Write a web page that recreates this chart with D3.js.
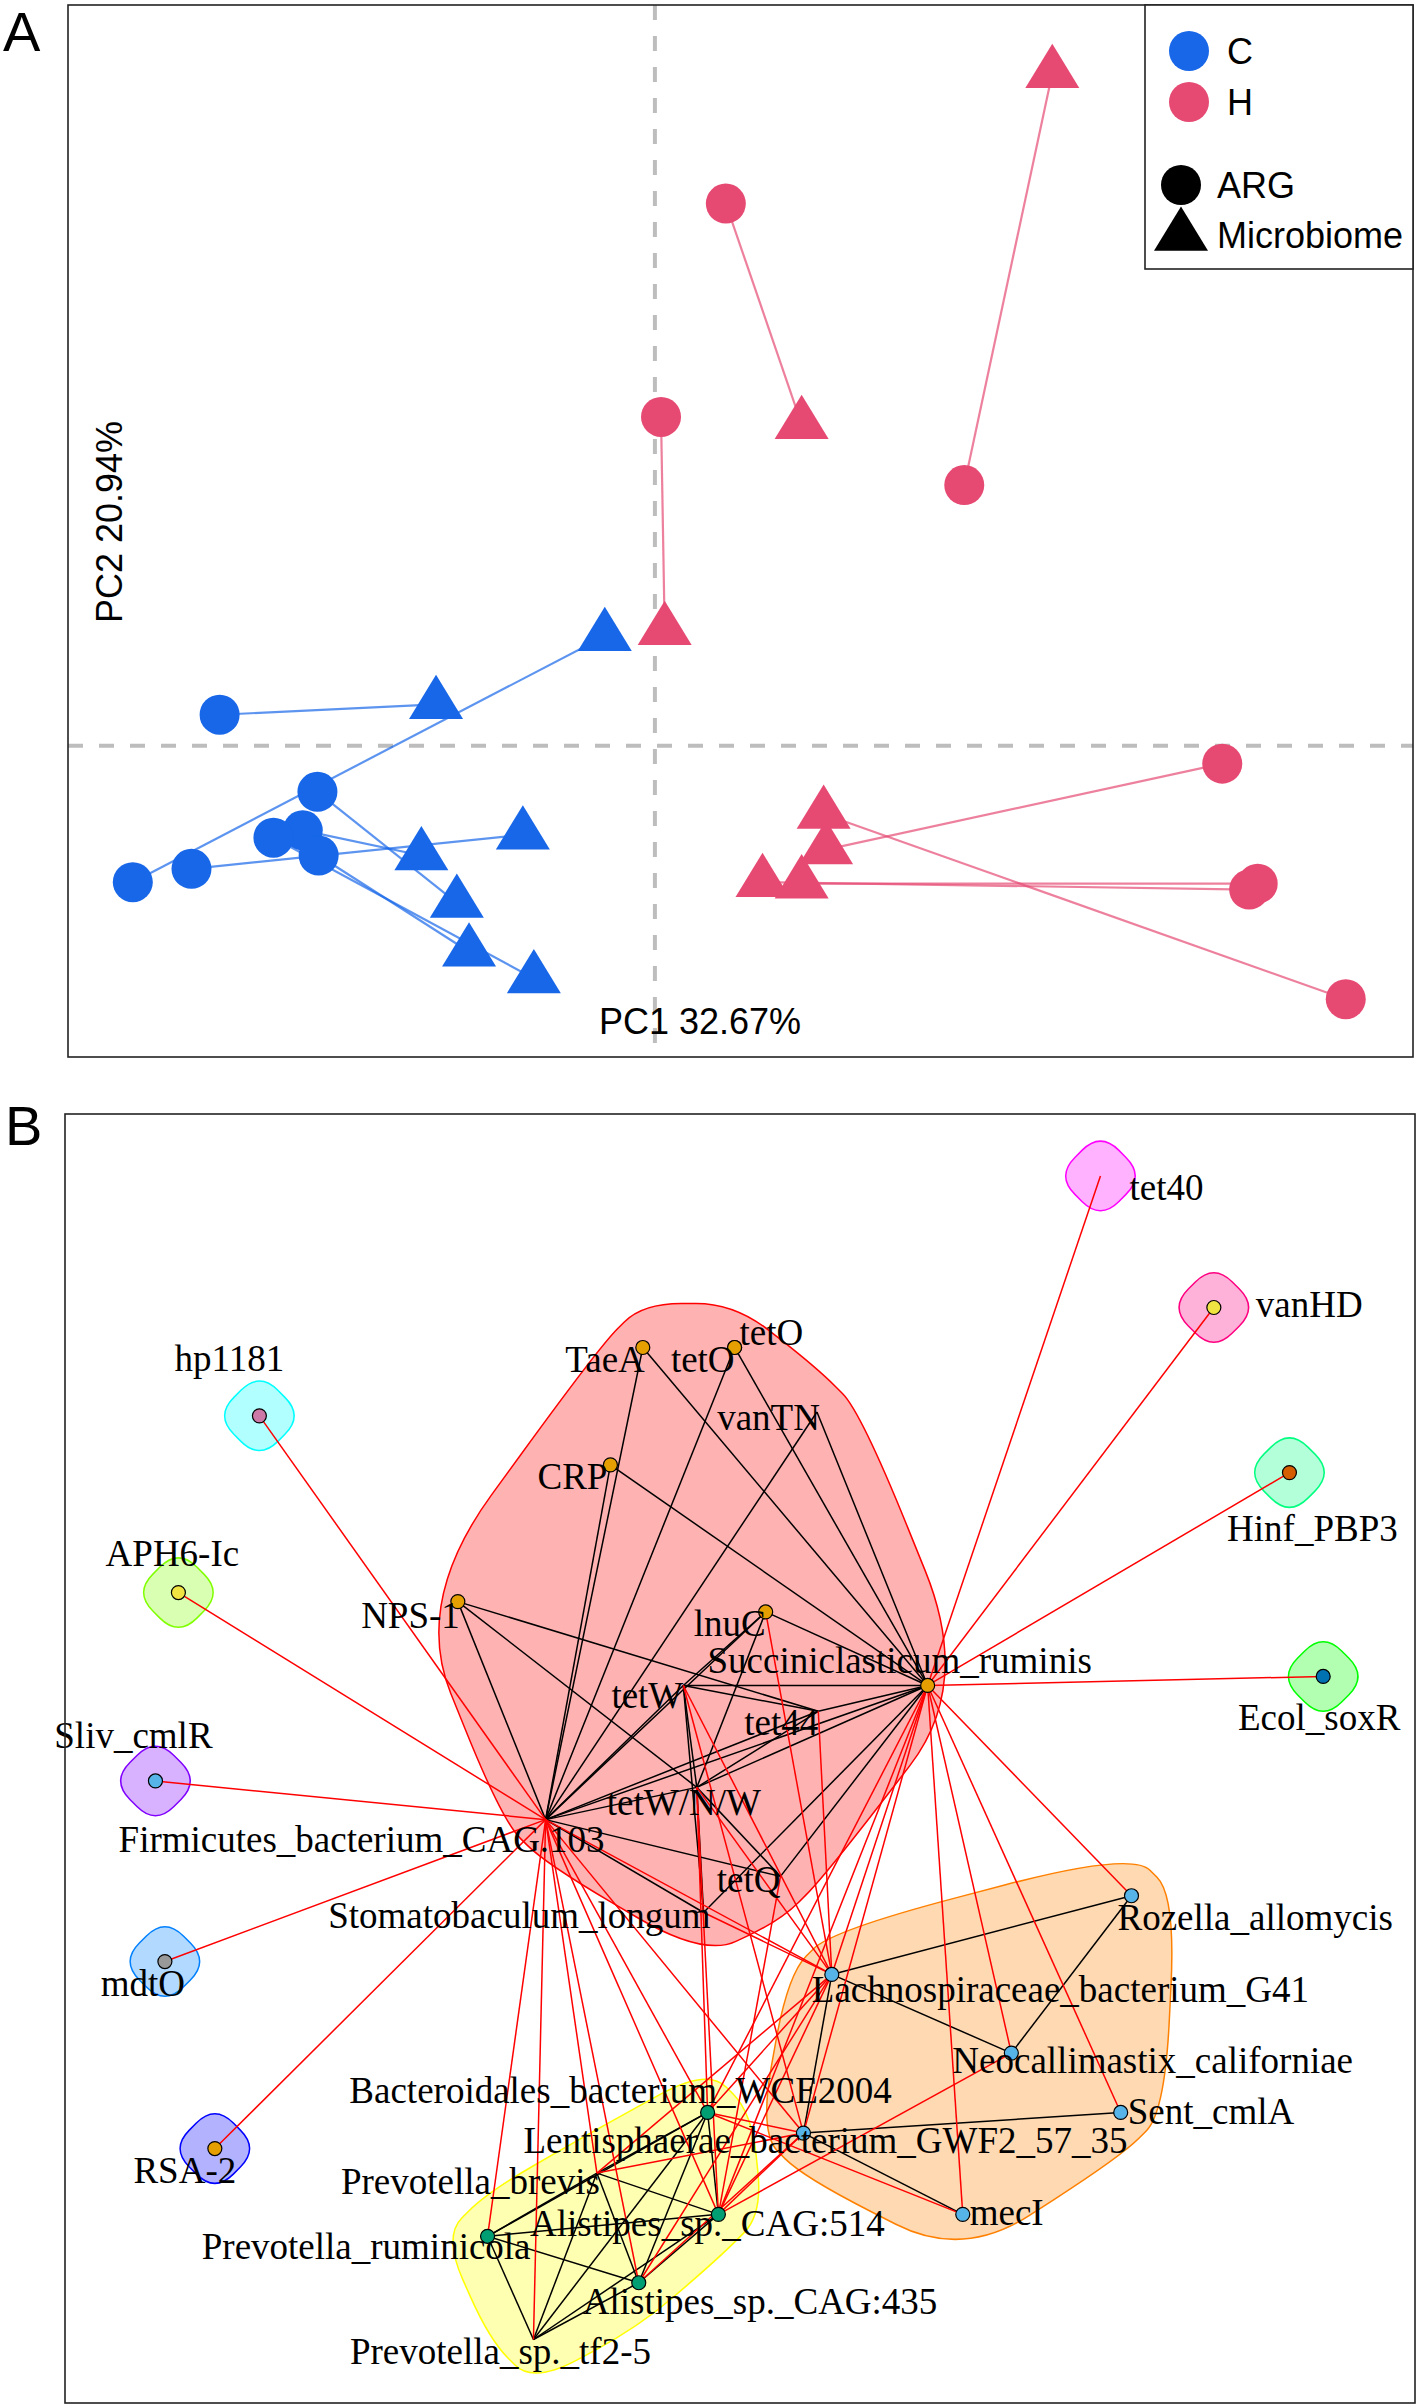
<!DOCTYPE html>
<html>
<head>
<meta charset="utf-8">
<script src="https://cdn.jsdelivr.net/npm/d3@7"></script>
<style>
  body { margin: 0; background: #fff; }
  svg { display: block; }
</style>
</head>
<body>
<svg id="fig" width="1418" height="2408"></svg>
<script>
// --------------------------------------------------------
// PANEL A DATA: procrustes PCoA, ARG vs microbiome per sample
// --------------------------------------------------------
const sampleIds   = ["C1","C2","C3","C4","C5","C6","C7","H1","H2","H3","H4","H5","H6","H7"];
const sampleGroup = ["C","C","C","C","C","C","C","H","H","H","H","H","H","H"];
const argPC1 = [-0.356,-0.427,-0.379,-0.288,-0.276,-0.275,-0.312, 0.058, 0.005, 0.253, 0.464, 0.493, 0.486, 0.565];
const argPC2 = [ 0.021,-0.092,-0.083,-0.057,-0.031,-0.074,-0.062, 0.366, 0.222, 0.176,-0.012,-0.093,-0.097,-0.171];
const micPC1 = [-0.179,-0.041,-0.108,-0.191,-0.162,-0.152,-0.099, 0.120, 0.008, 0.325, 0.140, 0.120, 0.088, 0.138];
const micPC2 = [ 0.028, 0.074,-0.060,-0.074,-0.106,-0.139,-0.157, 0.217, 0.078, 0.454,-0.070,-0.093,-0.092,-0.046];
const axisTitles  = ["PC1 32.67%", "PC2 20.94%"];
const groupLevels = ["C", "H"];
const typeLevels  = ["ARG", "Microbiome"];

// --------------------------------------------------------
// PANEL B DATA: co-occurrence network (layout units 0-100)
// --------------------------------------------------------
const nodeIds = ["TaeA","tetO1","tetO2","vanTN","CRP","NPS1","lnuC","Succ","tetW","tet44","tetWNW","tetQ","Firm","Stoma",
                 "Roz","Lach","Neo","Sent","Lent","mecI",
                 "Bact","Pbre","A514","Prum","A435","Psp",
                 "APH6","Ecol","Hinf","hp1181","mdtO","RSA2","Sliv","tet40","vanHD"];
const nodeLabels = ["TaeA","tetO","tetO","vanTN","CRP","NPS-1","lnuC","Succiniclasticum_ruminis","tetW","tet44","tetW/N/W","tetQ",
                    "Firmicutes_bacterium_CAG.103","Stomatobaculum_longum",
                    "Rozella_allomycis","Lachnospiraceae_bacterium_G41","Neocallimastix_californiae","Sent_cmlA",
                    "Lentisphaerae_bacterium_GWF2_57_35","mecI",
                    "Bacteroidales_bacterium_WCE2004","Prevotella_brevis","Alistipes_sp._CAG:514","Prevotella_ruminicola",
                    "Alistipes_sp._CAG:435","Prevotella_sp._tf2-5",
                    "APH6-Ic","Ecol_soxR","Hinf_PBP3","hp1181","mdtO","RSA-2","Sliv_cmlR","tet40","vanHD"];
const nodeX = [42.8,49.6,49.6,55.7,40.4,29.1,51.9,63.9,45.8,55.8,46.8,53.0,35.6,47.3,
               79.0,56.8,70.1,78.2,54.7,66.5,
               47.6,39.4,48.4,31.3,42.5,34.7,
               8.4,93.2,90.7,14.4,7.4,11.1,6.7,76.7,85.1];
const nodeY = [18.1,18.1,18.1,23.1,27.2,37.8,38.6,44.3,44.3,46.3,52.2,59.1,54.7,61.9,
               60.6,66.7,72.8,77.4,79.0,85.3,
               77.4,82.1,85.3,87.0,90.6,95.0,
               37.1,43.6,27.8,23.4,65.7,80.2,51.7,4.8,15.0];
// community membership (one hull each)
const nodeGroup = [0,0,0,0,0,0,0,0,0,0,0,0,0,0,
                   1,1,1,1,1,1,
                   2,2,2,2,2,2,
                   3,4,5,6,7,8,9,10,11];
// vertex class ("none" = vertex drawn without a dot)
const nodeKind = ["orange","orange","orange","none","orange","orange","orange","orange","none","none","none","none","none","none",
                  "skyblue","skyblue","skyblue","skyblue","skyblue","skyblue",
                  "green","none","green","green","green","none",
                  "yellow","blue","vermilion","purple","grey","orange","skyblue","none","yellow"];
const edgeList = [
  ["TaeA","Firm"],["TaeA","Succ"],["tetO1","Firm"],["tetO2","Succ"],["vanTN","Succ"],["vanTN","Firm"],
  ["CRP","Firm"],["CRP","Succ"],["NPS1","Firm"],["NPS1","tetWNW"],["NPS1","tet44"],
  ["lnuC","Succ"],["lnuC","tetW"],["lnuC","Firm"],["lnuC","tetWNW"],
  ["tetW","Succ"],["tetW","tet44"],["tetW","tetWNW"],["tetW","Stoma"],["tetW","Firm"],
  ["tet44","Succ"],["tet44","Firm"],["tet44","tetWNW"],
  ["tetWNW","Firm"],["tetWNW","Succ"],["tetWNW","tetQ"],["tetWNW","Stoma"],
  ["tetQ","Firm"],["tetQ","Succ"],["Stoma","Firm"],["Stoma","Succ"],["Firm","Succ"],
  ["Lach","Roz"],["Lach","Neo"],["Roz","Neo"],["Lach","Lent"],["Lent","Sent"],["Lent","mecI"],
  ["Bact","Pbre"],["Bact","Prum"],["Bact","A514"],["Bact","A435"],["Bact","Psp"],
  ["Pbre","Prum"],["Pbre","A514"],["Pbre","A435"],["Pbre","Psp"],
  ["Prum","A514"],["Prum","A435"],["Prum","Psp"],["A514","Psp"],["A435","Psp"],["A514","A435"],
  ["Firm","hp1181"],["Firm","APH6"],["Firm","Sliv"],["Firm","mdtO"],["Firm","RSA2"],
  ["Firm","Prum"],["Firm","Psp"],["Firm","Pbre"],["Firm","A435"],["Firm","A514"],["Firm","Bact"],
  ["Firm","Lent"],["Firm","Lach"],
  ["Succ","tet40"],["Succ","vanHD"],["Succ","Hinf"],["Succ","Ecol"],["Succ","Roz"],["Succ","Sent"],
  ["Succ","Neo"],["Succ","mecI"],["Succ","Lach"],["Succ","Lent"],["Succ","A514"],["Succ","Bact"],
  ["tet44","Lach"],["lnuC","Lach"],["tetW","Lach"],["tetWNW","Lach"],["Stoma","Lach"],
  ["tetW","Lent"],["tetWNW","A514"],["tetWNW","Bact"],["tetQ","A514"],
  ["Bact","Lach"],["Bact","Lent"],["Bact","mecI"],["A514","Lach"],["A514","Lent"],["A514","Neo"],
  ["A435","Lach"],["A435","Lent"],["Pbre","Lach"],["Pbre","Lent"]
];

// --------------------------------------------------------
// STYLE
// --------------------------------------------------------
const sansFont  = "Liberation Sans, Arial, Helvetica, sans-serif";
const serifFont = "Liberation Serif, Times New Roman, serif";
const groupColor = d3.scaleOrdinal().domain(groupLevels).range(["#1767E8", "#E64A73"]);
const kindColor = d3.scaleOrdinal()
  .domain(["orange","skyblue","green","yellow","vermilion","blue","purple","grey"])
  .range(["#E69F00","#56B4E9","#009E73","#F0E442","#D55E00","#0072B2","#CC79A7","#999999"]);
// R rainbow(12): community hull colours
const hullColor = (g) => d3.hsl(g * 30, 1, 0.5).formatHex();

// label placement relative to vertex, px: [dx, dy, anchor]
const labelAt = {
  TaeA:[2,25,"end"], tetO1:[0,25,"end"], tetO2:[5,-2,"start"], vanTN:[3,18,"end"], CRP:[-3,24,"end"],
  NPS1:[2,26,"end"], lnuC:[0,24,"end"], Succ:[-28,-12,"middle"], tetW:[0,23,"end"], tet44:[0,24,"end"],
  tetWNW:[-13,28,"middle"], tetQ:[0,16,"end"], Firm:[-184,32,"middle"], Stoma:[7,15,"end"],
  Roz:[-14,34,"start"], Lach:[-20,28,"start"], Neo:[-59,20,"start"], Sent:[7,12,"start"],
  Lent:[22,20,"middle"], mecI:[7,11,"start"], Bact:[-87,-9,"middle"], Pbre:[3,21,"end"],
  A514:[-11,22,"middle"], Prum:[43,23,"end"], A435:[-56,31,"start"], Psp:[-33,24,"middle"],
  APH6:[-6,-27,"middle"], Ecol:[-4,54,"middle"], Hinf:[23,68,"middle"], hp1181:[-30,-45,"middle"],
  mdtO:[-22,34,"middle"], RSA2:[-30,34,"middle"], Sliv:[-22,-33,"middle"], tet40:[29,24,"start"],
  vanHD:[42,9,"start"]
};

const svg = d3.select("#fig");

// ========================================================
// PANEL A
// ========================================================
const frameA = { x0: 68, x1: 1413, y0: 5, y1: 1057 };
const ax = d3.scaleLinear().domain([-0.48, 0.62]).range([frameA.x0, frameA.x1]);
const ay = d3.scaleLinear().domain([-0.21, 0.5]).range([frameA.y1, frameA.y0]);

const gA = svg.append("g");

gA.append("line")
  .attr("x1", ax(0)).attr("x2", ax(0)).attr("y1", frameA.y0).attr("y2", frameA.y1)
  .attr("stroke", "#bdbdbd").attr("stroke-width", 4).attr("stroke-dasharray", "15,16");
gA.append("line")
  .attr("x1", frameA.x0).attr("x2", frameA.x1).attr("y1", ay(0)).attr("y2", ay(0))
  .attr("stroke", "#bdbdbd").attr("stroke-width", 4).attr("stroke-dasharray", "15,16");

const samples = sampleIds.map((id, i) => ({
  id, group: sampleGroup[i],
  ax: argPC1[i], ay: argPC2[i], mx: micPC1[i], my: micPC2[i]
}));

gA.append("g").selectAll("line").data(samples).join("line")
  .attr("x1", d => ax(d.ax)).attr("y1", d => ay(d.ay))
  .attr("x2", d => ax(d.mx)).attr("y2", d => ay(d.my))
  .attr("stroke", d => groupColor(d.group))
  .attr("stroke-opacity", 0.7)
  .attr("stroke-width", 2.2);

// squat triangle centred on its centroid
const triangle = {
  draw(ctx, size) {
    const w = Math.sqrt(size), h = w * 0.82;
    ctx.moveTo(0, -h * 2 / 3);
    ctx.lineTo(w / 2, h / 3);
    ctx.lineTo(-w / 2, h / 3);
    ctx.closePath();
  }
};
const triPath = d3.symbol().type(triangle).size(54 * 54)();

gA.append("g").selectAll("circle").data(samples).join("circle")
  .attr("cx", d => ax(d.ax)).attr("cy", d => ay(d.ay)).attr("r", 20)
  .attr("fill", d => groupColor(d.group));

gA.append("g").selectAll("path").data(samples).join("path")
  .attr("d", triPath)
  .attr("transform", d => `translate(${ax(d.mx)},${ay(d.my)})`)
  .attr("fill", d => groupColor(d.group));

gA.append("text")
  .attr("x", 599).attr("y", 1034)
  .attr("font-family", sansFont).attr("font-size", 36)
  .text(axisTitles[0]);
gA.append("text")
  .attr("transform", "translate(122,522) rotate(-90)")
  .attr("text-anchor", "middle")
  .attr("font-family", sansFont).attr("font-size", 36)
  .text(axisTitles[1]);

gA.append("rect")
  .attr("x", frameA.x0).attr("y", frameA.y0)
  .attr("width", frameA.x1 - frameA.x0).attr("height", frameA.y1 - frameA.y0)
  .attr("fill", "none").attr("stroke", "#222").attr("stroke-width", 1.6);

// legend
const leg = gA.append("g");
leg.append("rect").attr("x", 1145).attr("y", frameA.y0).attr("width", frameA.x1 - 1145).attr("height", 264)
  .attr("fill", "#fff").attr("stroke", "#222").attr("stroke-width", 1.6);
groupLevels.forEach((g, i) => {
  leg.append("circle").attr("cx", 1189).attr("cy", 51 + i * 51).attr("r", 20).attr("fill", groupColor(g));
  leg.append("text").attr("x", 1227).attr("y", 64 + i * 51)
    .attr("font-family", sansFont).attr("font-size", 36).text(g);
});
leg.append("circle").attr("cx", 1181).attr("cy", 185).attr("r", 20).attr("fill", "#000");
leg.append("path").attr("d", triPath).attr("transform", "translate(1181,236)").attr("fill", "#000");
typeLevels.forEach((t, i) => {
  leg.append("text").attr("x", 1217).attr("y", 198 + i * 50)
    .attr("font-family", sansFont).attr("font-size", 36).text(t);
});

svg.append("text").attr("x", 3).attr("y", 51)
  .attr("font-family", sansFont).attr("font-size", 56).text("A");

// ========================================================
// PANEL B
// ========================================================
const frameB = { x0: 65, x1: 1415, y0: 1114, y1: 2403 };
const bx = d3.scaleLinear().domain([0, 100]).range([frameB.x0, frameB.x1]);
const by = d3.scaleLinear().domain([0, 100]).range([frameB.y0, frameB.y0 + 1290]);

const nodes = nodeIds.map((id, i) => ({
  id, label: nodeLabels[i], group: nodeGroup[i], kind: nodeKind[i],
  x: bx(nodeX[i]), y: by(nodeY[i])
}));
const byId = new Map(nodes.map(n => [n.id, n]));
const links = edgeList.map(([a, b]) => ({ source: byId.get(a), target: byId.get(b) }));

// igraph-style group marks: hull of vertices expanded by +-d, corners rounded
function roundedPath(pts, f) {
  const n = pts.length;
  let d = "";
  for (let i = 0; i < n; i++) {
    const p0 = pts[(i - 1 + n) % n], v = pts[i], p2 = pts[(i + 1) % n];
    const a = [v[0] + (p0[0] - v[0]) * f, v[1] + (p0[1] - v[1]) * f];
    const b = [v[0] + (p2[0] - v[0]) * f, v[1] + (p2[1] - v[1]) * f];
    d += (i === 0 ? "M" : "L") + a[0] + "," + a[1] + "Q" + v[0] + "," + v[1] + " " + b[0] + "," + b[1];
  }
  return d + "Z";
}
const expand = 44;
const groups = d3.groups(nodes, n => n.group).sort((a, b) => a[0] - b[0]);

const gB = svg.append("g");
gB.append("g").selectAll("path").data(groups).join("path")
  .attr("d", ([, members]) => {
    const pts = members.flatMap(n => [[n.x - expand, n.y], [n.x + expand, n.y], [n.x, n.y - expand], [n.x, n.y + expand]]);
    return roundedPath(d3.polygonHull(pts), 0.42);
  })
  .attr("fill", ([g]) => hullColor(g))
  .attr("fill-opacity", 0.3)
  .attr("stroke", ([g]) => hullColor(g))
  .attr("stroke-width", 1.5);

gB.append("g").selectAll("line").data(links).join("line")
  .attr("x1", d => d.source.x).attr("y1", d => d.source.y)
  .attr("x2", d => d.target.x).attr("y2", d => d.target.y)
  .attr("stroke", d => d.source.group === d.target.group ? "#000" : "#ff0000")
  .attr("stroke-width", 1.5);

gB.append("g").selectAll("circle").data(nodes.filter(n => n.kind !== "none")).join("circle")
  .attr("cx", d => d.x).attr("cy", d => d.y).attr("r", 7)
  .attr("fill", d => kindColor(d.kind))
  .attr("stroke", "#000").attr("stroke-width", 1.2);

gB.append("g").selectAll("text").data(nodes).join("text")
  .attr("x", d => d.x + labelAt[d.id][0])
  .attr("y", d => d.y + labelAt[d.id][1])
  .attr("text-anchor", d => labelAt[d.id][2])
  .attr("font-family", serifFont).attr("font-size", 37)
  .text(d => d.label);

gB.append("rect")
  .attr("x", frameB.x0).attr("y", frameB.y0)
  .attr("width", frameB.x1 - frameB.x0).attr("height", frameB.y1 - frameB.y0)
  .attr("fill", "none").attr("stroke", "#222").attr("stroke-width", 1.6);

svg.append("text").attr("x", 5).attr("y", 1145)
  .attr("font-family", sansFont).attr("font-size", 56).text("B");
</script>
</body>
</html>
